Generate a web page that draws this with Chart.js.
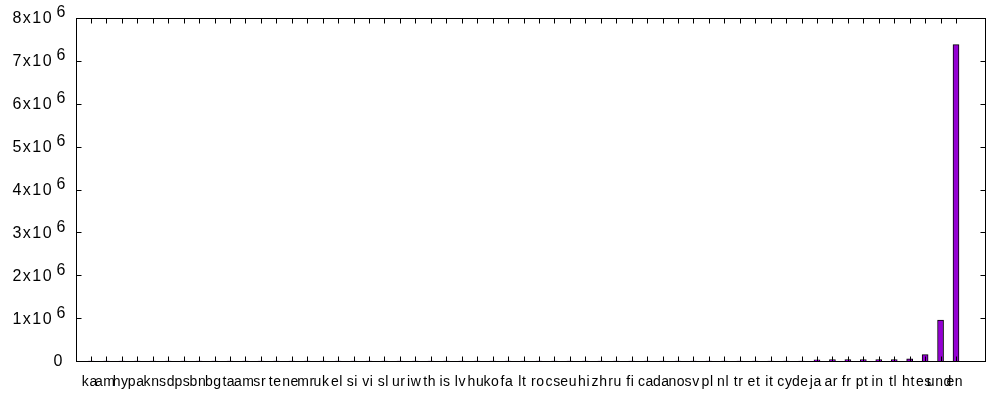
<!DOCTYPE html>
<html><head><meta charset="utf-8">
<script src="https://cdn.jsdelivr.net/npm/chart.js@4/dist/chart.umd.min.js"></script>
<style>html,body{margin:0;padding:0;background:#fff}#wrap{width:1000px;height:400px}</style>
</head><body><div id="wrap"><canvas id="c" width="1000" height="400"></canvas></div>
<script>
// Language codes (x categories), sorted ascending by count
const languages = ['ka','am','hy','pa','kn','sd','ps','bn','bg','ta','am','sr','te','ne','mr','uk','el','si','vi','sl',
  'ur','iw','th','is','lv','hu','ko','fa','lt','ro','cs','eu','hi','zh','ru','fi','ca','da','no','sv',
  'pl','nl','tr','et','it','cy','de','ja','ar','fr','pt','in','tl','ht','es','und','en'];
// Counts per language
const counts = [10,12,14,16,18,20,22,25,28,31,34,37,40,44,48,52,56,60,65,70,
  75,80,85,90,95,100,110,120,130,140,150,160,170,180,190,200,215,230,245,260,
  280,300,320,340,360,380,400,30000,31000,32000,33000,34000,35000,50000,150000,955000,7380000];
// Y tick values and their mantissas (label: m x10^6)
const yTicks = [0,1e6,2e6,3e6,4e6,5e6,6e6,7e6,8e6];
const yMantissa = ['0','1','2','3','4','5','6','7','8'];
const yExponent = '6';

const X_FONT = '14px "Liberation Sans", Arial, sans-serif';
const Y_FONT = '16px "Liberation Sans", Arial, sans-serif';

function spacedWidth(ctx, text, sp) {
  let w = 0;
  for (const ch of text) w += ctx.measureText(ch).width;
  return w + sp * (text.length - 1);
}
function drawSpaced(ctx, text, x, y, align, sp) {
  const w = spacedWidth(ctx, text, sp);
  let cx = align === 'right' ? x - w : align === 'center' ? x - w / 2 : x;
  const saved = ctx.textAlign;
  ctx.textAlign = 'left';
  for (const ch of text) {
    ctx.fillText(ch, cx, y);
    cx += ctx.measureText(ch).width + sp;
  }
  ctx.textAlign = saved;
  return w;
}

const gnuplotFrame = {
  id: 'gnuplotFrame',
  afterDatasetsDraw(chart) {
    const ctx = chart.ctx;
    const xs = chart.scales.x, ys = chart.scales.y;
    const n = languages.length;
    const step = (xs.getPixelForValue(n - 1) - xs.getPixelForValue(0)) / (n - 1);
    const L = Math.round(xs.getPixelForValue(0) - 0.95 * step) + 0.5;
    const R = Math.round(xs.getPixelForValue(n - 1) + 1.9 * step) + 0.5;
    const T = Math.round(ys.getPixelForValue(ys.max)) + 0.5;
    const B = Math.round(ys.getPixelForValue(0)) + 0.5;
    const tl = 5;
    ctx.save();
    ctx.strokeStyle = '#000';
    ctx.lineWidth = 1;
    ctx.beginPath();
    yTicks.forEach(v => {
      const y = Math.round(ys.getPixelForValue(v)) + 0.5;
      if (v === 0 || v === ys.max) return;
      ctx.moveTo(L, y); ctx.lineTo(L + tl, y);
      ctx.moveTo(R, y); ctx.lineTo(R - tl, y);
    });
    for (let i = 0; i < n; i++) {
      const x = Math.round(xs.getPixelForValue(i)) + 0.5;
      ctx.moveTo(x, B); ctx.lineTo(x, B - tl);
      ctx.moveTo(x, T); ctx.lineTo(x, T + tl);
    }
    ctx.stroke();
    ctx.strokeRect(L, T, R - L, B - T);
    ctx.fillStyle = '#000';
    ctx.textBaseline = 'middle';
    ctx.font = X_FONT;
    for (let i = 0; i < n; i++) {
      drawSpaced(ctx, languages[i], xs.getPixelForValue(i) - 1.5, B + 21, 'center', 0.6);
    }
    ctx.font = Y_FONT;
    yTicks.forEach((v, k) => {
      const y = ys.getPixelForValue(v);
      const xr = L - 11;
      if (v === 0) {
        drawSpaced(ctx, yMantissa[k], xr - 3, y + 1, 'right', 1.5);
        return;
      }
      const ew = drawSpaced(ctx, yExponent, xr, y - 5, 'right', 1.5);
      drawSpaced(ctx, yMantissa[k] + 'x10', xr - ew - 5, y + 1, 'right', 1.5);
    });
    ctx.restore();
  }
};

new Chart(document.getElementById('c'), {
  type: 'bar',
  data: {
    labels: languages,
    datasets: [{
      data: counts,
      backgroundColor: '#9400d3',
      borderColor: '#000',
      borderWidth: 1,
      borderSkipped: 'start',
      barThickness: 6,
      clip: false
    }]
  },
  options: {
    responsive: false,
    animation: false,
    devicePixelRatio: 1,
    layout: { padding: { left: 91, right: 44, top: 18, bottom: 39 } },
    plugins: { legend: { display: false }, tooltip: { enabled: false } },
    scales: {
      x: { display: false, offset: false },
      y: { display: false, min: 0, max: 8e6 }
    }
  },
  plugins: [gnuplotFrame]
});
</script>
</body></html>
